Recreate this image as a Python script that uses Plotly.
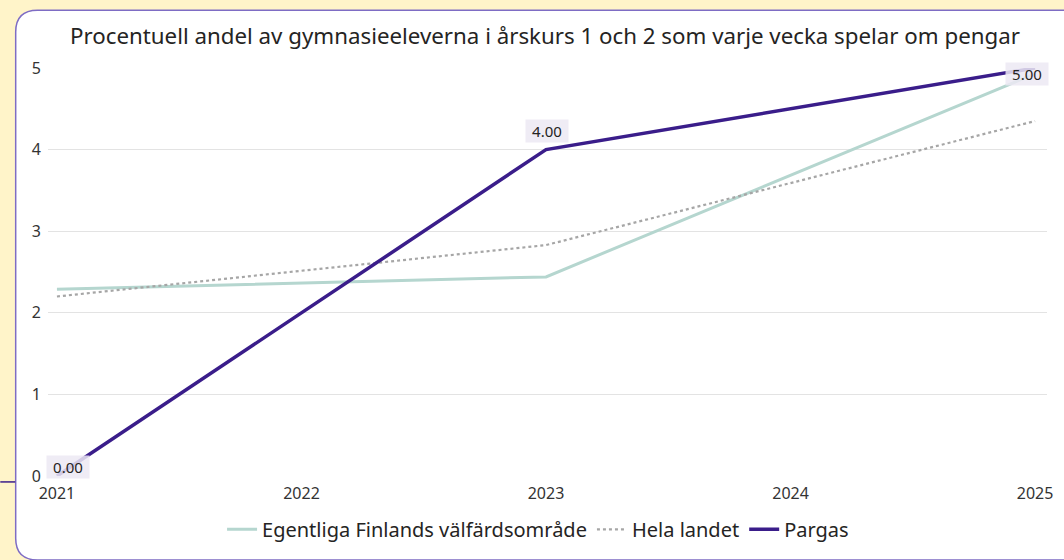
import plotly.graph_objects as go

years = [2021, 2023, 2025]
egentliga = [2.29, 2.44, 4.93]
hela_landet = [2.20, 2.83, 4.35]
pargas = [0.0, 4.0, 5.0]

title = "Procentuell andel av gymnasieeleverna i årskurs 1 och 2 som varje vecka spelar om pengar"
FONT = "Noto Sans"

# plot area in pixels (left, right, top, bottom)
PL, PR, PT, PB = 48, 1053, 68, 481


def px(x):
    return (x - PL) / (PR - PL)


def py(y):
    return (PB - y) / (PB - PT)


fig = go.Figure()

fig.add_trace(go.Scatter(x=years, y=egentliga, mode='lines', name='Egentliga Finlands välfärdsområde',
                         line=dict(color='#B5D6CF', width=3), cliponaxis=False))
fig.add_trace(go.Scatter(x=years, y=hela_landet, mode='lines', name='Hela landet',
                         line=dict(color='#A6A6A6', width=2.2, dash='dot'), cliponaxis=False))
fig.add_trace(go.Scatter(x=years, y=pargas, mode='lines', name='Pargas',
                         line=dict(color='#3A1D8A', width=3.5), cliponaxis=False))

# data labels for Pargas
shifts = [(11, 9), (1, 19), (-8, -6)]
for xv, yv, (dx, dy) in zip(years, pargas, shifts):
    fig.add_annotation(x=xv, y=yv, text='%.2f' % yv, showarrow=False, xshift=dx, yshift=dy,
                       font=dict(family=FONT, size=15, color='#252423'),
                       bgcolor='rgba(236,233,243,0.85)', width=40, height=20, borderpad=1)

# card with rounded left corners
x0, x1, y0, y1, r = 15.5, 1080, 9.5, 566, 22
path = ("M {a},{b} L {c},{b} L {c},{d} L {e},{d} Q {f},{d} {f},{g} L {f},{h} Q {f},{b} {a},{b} Z"
        .format(a=px(x0 + r), b=py(y0), c=px(x1), d=py(y1), e=px(x0 + r), f=px(x0),
                g=py(y1 - r), h=py(y0 + r)))
fig.add_shape(type='path', path=path, xref='paper', yref='paper', layer='below',
              fillcolor='white', line=dict(color='#7E6CC4', width=1.5))
fig.add_shape(type='line', xref='paper', yref='paper', x0=px(0), x1=px(15), y0=py(487), y1=py(487),
              line=dict(color='#3A1D8A', width=1.5))

fig.update_layout(
    width=1064, height=560,
    margin=dict(l=PL, r=1064 - PR, t=PT, b=560 - PB),
    paper_bgcolor='#FFF4C9', plot_bgcolor='rgba(0,0,0,0)',
    font=dict(family=FONT, color='#252423'),
    title=dict(text=title, xref='container', yref='container', x=545 / 1064, xanchor='center',
               y=1 - 36 / 560, yanchor='middle', font=dict(family=FONT, size=22.3, color='#252423')),
    legend=dict(orientation='h', xref='paper', x=px(541), xanchor='center', y=py(535), yanchor='middle',
                font=dict(family=FONT, size=20, color='#252423'), bgcolor='rgba(0,0,0,0)'),
)
fig.update_xaxes(range=[2021 - 9 / 246, 2025 + 12 / 246], tickvals=[2021, 2022, 2023, 2024, 2025],
                 showgrid=False, zeroline=False, showline=False, ticks='', ticklabelstandoff=6,
                 tickfont=dict(family=FONT, size=16, color='#333333'))
fig.update_yaxes(range=[0, 5], dtick=1, showgrid=True, gridcolor='#E3E3E3', gridwidth=1,
                 zeroline=False, showline=False, ticks='', ticklabelstandoff=6,
                 tickfont=dict(family=FONT, size=16, color='#333333'))

fig.write_html("out.html", config={'displayModeBar': False},
               post_script="document.body.style.margin='0';")
